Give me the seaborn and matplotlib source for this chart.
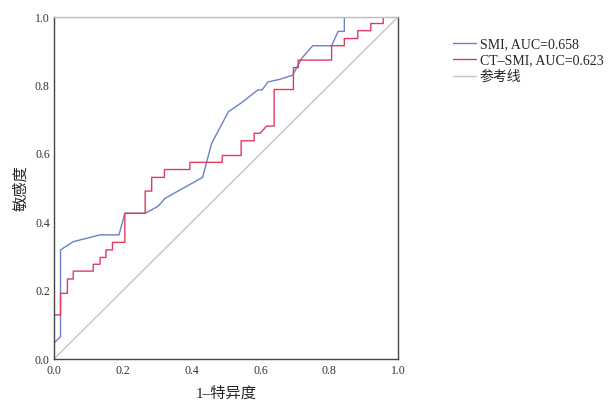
import pandas as pd
import matplotlib
matplotlib.use("Agg")
import matplotlib.pyplot as plt
import seaborn as sns

# ROC points (1-specificity, sensitivity)
smi_fpr = [0.0, 0.0, 0.019, 0.019, 0.056, 0.134, 0.189, 0.206, 0.265, 0.303, 0.323,
           0.432, 0.458, 0.507, 0.546, 0.593, 0.605, 0.622, 0.657, 0.694, 0.72,
           0.752, 0.807, 0.826, 0.844, 0.844, 1.0]
smi_tpr = [0.0, 0.047, 0.065, 0.319, 0.343, 0.363, 0.363, 0.426, 0.426, 0.447, 0.47,
           0.531, 0.63, 0.723, 0.75, 0.787, 0.787, 0.81, 0.818, 0.83, 0.879,
           0.916, 0.916, 0.958, 0.958, 1.0, 1.0]

ct_fpr = [0.0, 0.0, 0.019, 0.019, 0.039, 0.039, 0.056, 0.056, 0.114, 0.114, 0.134, 0.134,
          0.151, 0.151, 0.17, 0.17, 0.206, 0.206, 0.265, 0.265, 0.284, 0.284, 0.321, 0.321,
          0.395, 0.395, 0.489, 0.489, 0.544, 0.544, 0.582, 0.582, 0.599, 0.618, 0.64, 0.64,
          0.696, 0.696, 0.71, 0.71, 0.807, 0.807, 0.844, 0.844, 0.883, 0.883, 0.921, 0.921,
          0.957, 0.957, 1.0]
ct_tpr = [0.0, 0.129, 0.129, 0.192, 0.192, 0.234, 0.234, 0.257, 0.257, 0.277, 0.277, 0.297,
          0.297, 0.319, 0.319, 0.341, 0.341, 0.426, 0.426, 0.491, 0.491, 0.531, 0.531, 0.554,
          0.554, 0.575, 0.575, 0.595, 0.595, 0.638, 0.638, 0.66, 0.66, 0.681, 0.681, 0.788,
          0.788, 0.852, 0.852, 0.874, 0.874, 0.916, 0.916, 0.937, 0.937, 0.96, 0.96, 0.981,
          0.981, 1.0, 1.0]

ref_x = [0.0, 1.0]
ref_y = [0.0, 1.0]

labels = ["SMI, AUC=0.658", "CT\u2013SMI, AUC=0.623", "参考线"]
colors = ["#6a80c8", "#e03a62", "#c4c4c4"]
ticks = [0.0, 0.2, 0.4, 0.6, 0.8, 1.0]

sns.set_style("white")
serif = ["Liberation Serif", "Noto Sans CJK SC", "DejaVu Sans"]
plt.rcParams["font.family"] = serif

fig = plt.figure(figsize=(6.08, 4.0), dpi=100)
ax = fig.add_axes([0.0888, 0.1025, 0.5658, 0.855])

curves = [(smi_fpr, smi_tpr), (ct_fpr, ct_tpr), (ref_x, ref_y)]
for (xs, ys), lab, c in zip(curves, labels, colors):
    df = pd.DataFrame({"x": xs, "y": ys})
    sns.lineplot(data=df, x="x", y="y", sort=False, estimator=None,
                 color=c, linewidth=1.0, label=lab, ax=ax)

ax.set_xlim(0, 1)
ax.set_ylim(0, 1)
ax.set_xticks(ticks)
ax.set_yticks(ticks)
ax.set_xticklabels([f"{t:.1f}" for t in ticks], fontsize=8.5)
ax.set_yticklabels([f"{t:.1f}" for t in ticks], fontsize=8.5)
ax.tick_params(axis="x", length=0, pad=4, colors="#333333")
ax.tick_params(axis="y", length=0, pad=3, colors="#333333")
ax.set_xlabel("1\u2013特异度", fontsize=11, labelpad=7,
              family=["Liberation Serif", "Noto Sans CJK SC"])
ax.set_ylabel("敏感度", fontsize=11, family=["Noto Sans CJK SC"])

for side in ["left", "bottom", "right"]:
    ax.spines[side].set_color("#444444")
    ax.spines[side].set_linewidth(1.0)
ax.spines["top"].set_color("#bbbbbb")
ax.spines["top"].set_linewidth(1.0)

leg = ax.legend(loc="upper left", bbox_to_anchor=(1.145, 0.955), frameon=False,
                fontsize=10, handlelength=1.6, handletextpad=0.3, labelspacing=0.22,
                borderaxespad=0)

fig.savefig("out.png", dpi=100)
